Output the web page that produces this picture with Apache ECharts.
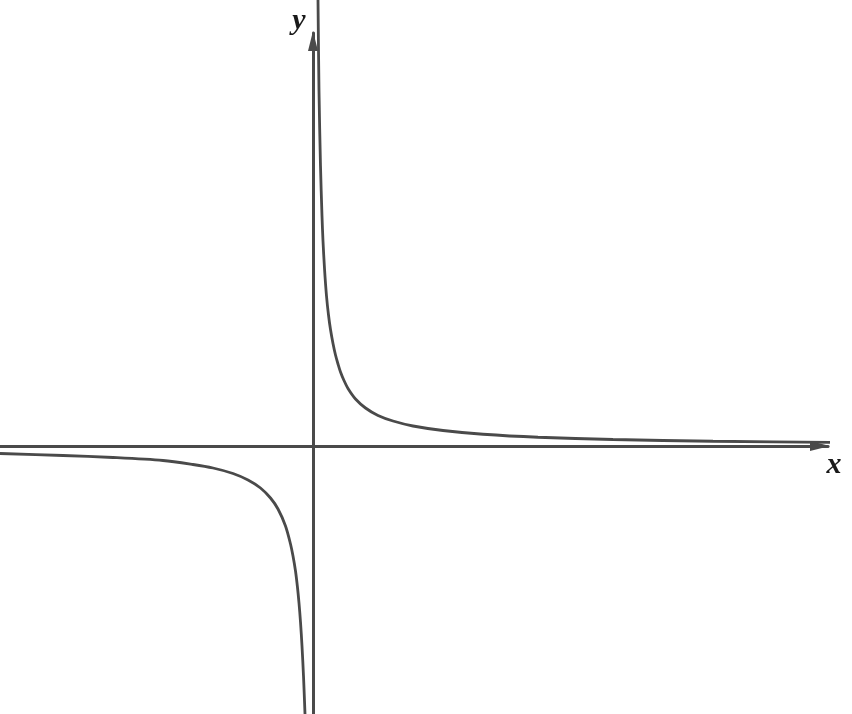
<!DOCTYPE html>
<html>
<head>
<meta charset="utf-8">
<script src="https://cdn.jsdelivr.net/npm/echarts@6/dist/echarts.min.js"></script>
<style>
  html, body { margin: 0; padding: 0; background: #fff; }
  #main { width: 852px; height: 714px; }
</style>
</head>
<body>
<div id="main"></div>
<script>
// points (1 unit = 50px, origin where the axes cross)
var rightX = [0.10, 0.12, 0.15, 0.18, 0.20, 0.23, 0.27, 0.31, 0.35, 0.40, 0.45, 0.50, 0.55, 0.62, 0.70, 0.85, 1.05, 1.30, 1.60, 2.00, 2.60, 3.40, 4.50, 6.00, 8.00, 10.78];
var rightY = [8.92, 7.10, 5.60, 4.60, 4.10, 3.55, 3.00, 2.62, 2.33, 2.05, 1.82, 1.64, 1.48, 1.31, 1.15, 0.94, 0.76, 0.61, 0.50, 0.40, 0.31, 0.235, 0.175, 0.13, 0.095, 0.07];
var leftX = [-6.26, -5.00, -4.00, -3.00, -2.40, -2.00, -1.60, -1.30, -1.05, -0.85, -0.70, -0.55, -0.45, -0.40, -0.35, -0.31, -0.28, -0.25, -0.22, -0.19, -0.16];
var leftY = [-0.15, -0.19, -0.23, -0.29, -0.37, -0.44, -0.55, -0.68, -0.84, -1.04, -1.26, -1.60, -1.96, -2.20, -2.50, -2.83, -3.14, -3.52, -4.00, -4.60, -5.36];
var axisNames = ['x', 'y'];

var lineColor = '#4a4a4a';

function pairs(xs, ys) {
    var out = [];
    for (var i = 0; i < xs.length; i++) {
        out.push([xs[i], ys[i]]);
    }
    return out;
}

var chart = echarts.init(document.getElementById('main'));

var axisLine = {
    onZero: true,
    symbol: ['none', 'triangle'],
    symbolSize: [10, 20],
    symbolOffset: [0, -8],
    lineStyle: { color: lineColor, width: 3 }
};
var labelFont = 'italic bold 30px "Liberation Serif"';

function plainAxis(min, max) {
    return {
        type: 'value',
        min: min,
        max: max,
        axisLine: axisLine,
        axisTick: { show: false },
        axisLabel: { show: false },
        splitLine: { show: false }
    };
}

chart.setOption({
    animation: false,
    grid: { left: 0, right: 24, top: 33, bottom: 0 },
    xAxis: plainAxis(-6.26, 10.3),
    yAxis: plainAxis(-5.36, 8.26),
    graphic: [
        {
            type: 'text',
            x: 834, y: 465,
            style: { text: axisNames[0], font: labelFont, fill: '#1a1a1a', align: 'center', verticalAlign: 'middle' }
        },
        {
            type: 'text',
            x: 299, y: 21,
            style: { text: axisNames[1], font: labelFont, fill: '#1a1a1a', align: 'center', verticalAlign: 'middle' }
        }
    ],
    series: [
        {
            type: 'line',
            data: pairs(rightX, rightY),
            smooth: 0.3,
            clip: false,
            showSymbol: false,
            lineStyle: { color: lineColor, width: 2.8 }
        },
        {
            type: 'line',
            data: pairs(leftX, leftY),
            smooth: 0.3,
            clip: false,
            showSymbol: false,
            lineStyle: { color: lineColor, width: 2.8 }
        }
    ]
});
</script>
</body>
</html>
